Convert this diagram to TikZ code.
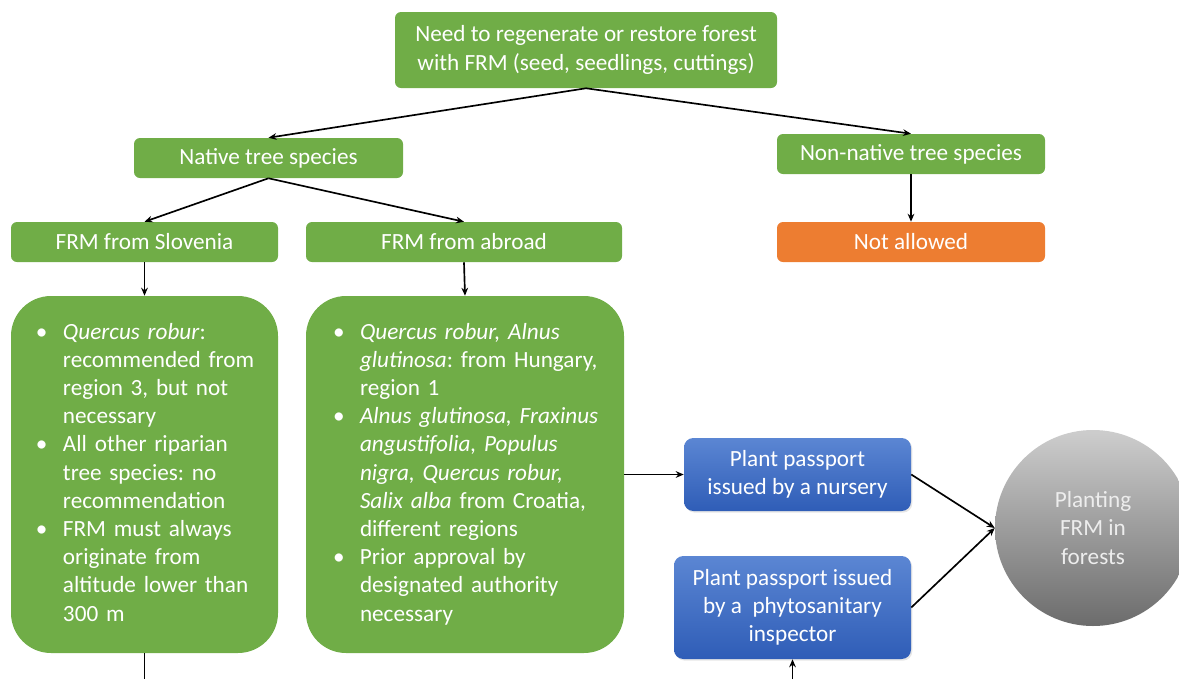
\documentclass[tikz,border=0pt]{standalone}
\usepackage{fontspec}
\setmainfont{Carlito}
\usetikzlibrary{arrows.meta,shadows}
\definecolor{frmgreen}{HTML}{70AD47}
\definecolor{frmorange}{HTML}{ED7D31}
\definecolor{bluetop}{HTML}{5B86D3}
\definecolor{bluebot}{HTML}{2F5DB7}
\definecolor{graytop}{HTML}{CDCDCD}
\definecolor{graybot}{HTML}{6C6C6C}
\definecolor{circtext}{HTML}{EDEDED}
\newcommand{\fsz}{\fontsize{17.4}{21.15}\selectfont\frenchspacing}
\begin{document}
\begin{tikzpicture}[x=0.75pt,y=-0.75pt,
  box/.style={rectangle, rounded corners=4.5pt, fill=frmgreen, text=white, font=\fsz, align=center, inner sep=0pt},
  bigbox/.style={box, rounded corners=30pt, align=left, minimum height=267.75pt},
  passbox/.style={rectangle, rounded corners=7pt, top color=bluetop, bottom color=bluebot, text=white, font=\fsz, align=center, inner sep=0pt,
    drop shadow={opacity=0.2, shadow xshift=1pt, shadow yshift=-1.2pt}},
  arr/.style={-{Stealth[length=6pt,width=5pt]}, line width=1.25pt},
  plainline/.style={line width=1.25pt}]
\useasboundingbox (0,0) rectangle (1179,679);

\node[box, minimum width=286.5pt, minimum height=57pt] (need) at (586,50) {Need to regenerate or restore forest\\with FRM (seed, seedlings, cuttings)};
\node[box, minimum width=201.75pt, minimum height=30pt] (native) at (268.5,158) {Native tree species};
\node[box, minimum width=201pt, minimum height=30pt] (nonnative) at (911,154) {Non-native tree species};
\node[box, minimum width=200.25pt, minimum height=30pt] (slo) at (144.5,242) {FRM from Slovenia};
\node[box, minimum width=237pt, minimum height=30pt] (abroad) at (464,242) {FRM from abroad};
\node[box, fill=frmorange, minimum width=201pt, minimum height=30pt] (notallowed) at (911,242) {Not allowed};

\node[bigbox, text width=162.75pt, inner xsep=18.75pt] (leftbox) at (144.5,474.5) {%
\begin{tabular}{@{}p{20.25pt}@{}l@{}}
\textbullet & \textit{Quercus robur}:\\
 & recommended from\\
 & region 3, but not\\
 & necessary\\
\textbullet & All other riparian\\
 & tree species: no\\
 & recommendation\\
\textbullet & FRM must always\\
 & originate from\\
 & altitude lower than\\
 & 300 m
\end{tabular}};

\node[bigbox, text width=198pt, inner xsep=20.25pt] (midbox) at (465,474.5) {%
\begin{tabular}{@{}p{20.25pt}@{}l@{}}
\textbullet & \textit{Quercus robur, Alnus}\\
 & \textit{glutinosa}: from Hungary,\\
 & region 1\\
\textbullet & \textit{Alnus glutinosa, Fraxinus}\\
 & \textit{angustifolia, Populus}\\
 & \textit{nigra, Quercus robur,}\\
 & \textit{Salix alba} from Croatia,\\
 & different regions\\
\textbullet & Prior approval by\\
 & designated authority\\
 & necessary
\end{tabular}};

\node[passbox, minimum width=170.25pt, minimum height=54.75pt] (pass1) at (797.5,474.5) {Plant passport\\issued by a nursery};
\node[passbox, minimum width=177.75pt, minimum height=77.25pt] (pass2) at (792.5,607.5) {Plant passport issued\\by a \ phytosanitary\\inspector};

\node[circle, minimum size=147pt, inner sep=0pt, top color=graytop, bottom color=graybot, text=circtext, font=\fsz, align=center] (plant) at (1093,528) {Planting\\FRM in\\forests};

\coordinate (leftend) at (144.5,679);
\coordinate (bottomstart) at (792.5,679);

\draw[arr] (need.south) -- (native.north);
\draw[arr] (need.south) -- (nonnative.north);
\draw[arr] (native.south) -- (slo.north);
\draw[arr] (native.south) -- (abroad.north);
\draw[arr] (nonnative.south) -- (notallowed.north);
\draw[arr] (slo.south) -- (leftbox.north);
\draw[arr] (abroad.south) -- (midbox.north);
\draw[arr] (midbox.east) -- (pass1.west);
\draw[arr] (pass1.east) -- (plant.west);
\draw[arr] (pass2.east) -- (plant.west);
\draw[plainline] (leftbox.south) -- (leftend);
\draw[arr] (bottomstart) -- (pass2.south);
\end{tikzpicture}
\end{document}
